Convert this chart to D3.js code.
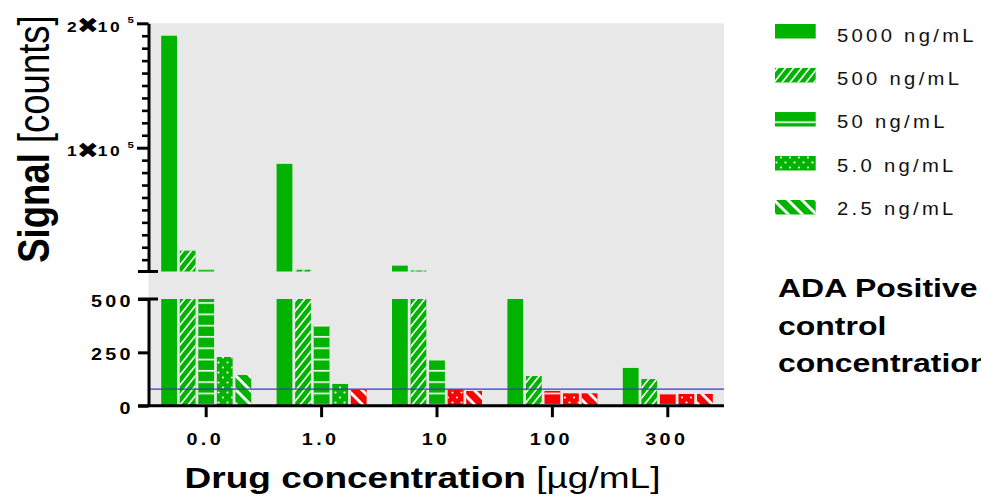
<!DOCTYPE html>
<html><head><meta charset="utf-8">
<script src="https://cdn.jsdelivr.net/npm/d3@7"></script>
<style>
html,body{margin:0;padding:0;background:#fff;}
svg{display:block;font-family:"Liberation Sans",Arial,Helvetica,sans-serif;}
</style></head><body>
<svg id="chart" width="981" height="502"></svg>
<script>
// ---- data ----
const categories = ["0.0", "1.0", "10", "100", "300"];
const seriesNames = ["5000 ng/mL", "500 ng/mL", "50 ng/mL", "5.0 ng/mL", "2.5 ng/mL"];
const values5000 = [190000, 87000, 5200, 510, 177];
const values500  = [17200, 1900, 1300, 139, 125];
const values50   = [2000, 378, 214, 69, 55];
const values5_0  = [228, 102, 76, 58, 55];
const values2_5  = [144, 76, 69, 58, 55];
const cutPoint = 78;
const lowerTicks = [0, 250, 500];
const upperMajorTicks = [100000, 200000];
const breakValue = 500;
const upperMax = 200000;
const yTitleBold = "Signal", yTitleRest = " [counts]";
const xTitleBold = "Drug concentration", xTitleRest = " [µg/mL]";
const legendTitleLines = ["ADA Positive", "control", "concentration"];

// ---- style ----
const GREEN = "#00b300", RED = "#ff0000", BG = "#e8e8e8", BLUE = "#3a3ac8";
const patternIds = [null, "p-hatch", "p-hlines", "p-dots", "p-stripes"];
const K = 1.2; // horizontal text stretch

const svg = d3.select("#chart");
const axisX = 148.5, plotRight = 724;

const x0 = d3.scaleBand().domain(categories).range([148.5, 725.5]);
const x1 = d3.scaleBand().domain(seriesNames).range([-45, 45]).paddingInner(0.15);
const yLow = d3.scaleLinear().domain([0, breakValue]).range([405.7, 299]);
const yUp = d3.scaleLinear().domain([breakValue, upperMax]).range([271.5, 23.3]);

// patterns
const defs = svg.append("defs");
let p = defs.append("pattern").attr("id", "p-hatch").attr("patternUnits", "userSpaceOnUse").attr("width", 8).attr("height", 10);
p.append("path").attr("d", "M0,10L8,0M-2,2.5L2,-2.5M6,12.5L10,7.5").attr("stroke", "#fff").attr("stroke-width", 1.7).attr("fill", "none");
p = defs.append("pattern").attr("id", "p-hlines").attr("patternUnits", "userSpaceOnUse").attr("width", 10).attr("height", 11.3);
p.append("rect").attr("x", 0).attr("y", 8.4).attr("width", 10).attr("height", 1.6).attr("fill", "#fff");
p = defs.append("pattern").attr("id", "p-dots").attr("patternUnits", "userSpaceOnUse").attr("width", 9).attr("height", 10);
p.append("circle").attr("cx", 2.5).attr("cy", 2.5).attr("r", 1.1).attr("fill", "#fff");
p.append("circle").attr("cx", 7).attr("cy", 7.5).attr("r", 1.1).attr("fill", "#fff");
p = defs.append("pattern").attr("id", "p-stripes").attr("patternUnits", "userSpaceOnUse").attr("width", 14).attr("height", 14);
p.append("path").attr("d", "M0,0L14,14M-2,12L2,16M12,-2L16,2").attr("stroke", "#fff").attr("stroke-width", 3).attr("fill", "none");

// background
svg.append("rect").attr("x", axisX).attr("y", yUp(upperMax)).attr("width", plotRight - axisX)
  .attr("height", yLow(0) - yUp(upperMax)).attr("fill", BG);

// bars
const seriesValues = [values5000, values500, values50, values5_0, values2_5];
const rows = [];
categories.forEach((c, ci) => seriesNames.forEach((s, si) => rows.push({ c, s, si, v: seriesValues[si][ci] })));
const bx = d => x0(d.c) + x0.bandwidth() / 2 + x1(d.s);
const colorOf = d => d.v < cutPoint ? RED : GREEN;

function drawBars(g, data, yTop, yBottom) {
  g.selectAll("rect.base").data(data).join("rect").attr("class", "base")
    .attr("x", bx).attr("width", x1.bandwidth())
    .attr("y", yTop).attr("height", d => yBottom - yTop(d)).attr("fill", colorOf);
  g.selectAll("rect.pat").data(data.filter(d => patternIds[d.si])).join("rect").attr("class", "pat")
    .attr("x", bx).attr("width", x1.bandwidth())
    .attr("y", yTop).attr("height", d => yBottom - yTop(d)).attr("fill", d => `url(#${patternIds[d.si]})`);
}
drawBars(svg.append("g"), rows, d => yLow(Math.min(d.v, breakValue)), yLow(0));
drawBars(svg.append("g"), rows.filter(d => d.v > breakValue), d => yUp(Math.min(d.v, upperMax)), yUp(breakValue));

// cut point line
svg.append("line").attr("x1", axisX).attr("x2", plotRight).attr("y1", yLow(cutPoint)).attr("y2", yLow(cutPoint))
  .attr("stroke", BLUE).attr("stroke-width", 1.3);

// axes
function styleAxis(g, w) {
  g.selectAll("path.domain").attr("stroke", "#000").attr("stroke-width", w);
  g.selectAll(".tick line").attr("stroke", "#000").attr("stroke-width", w);
  g.selectAll(".tick text").remove();
}
svg.append("g").attr("transform", `translate(${axisX},0)`)
  .call(d3.axisLeft(yUp).tickValues(upperMajorTicks).tickSize(11.5).tickSizeOuter(0).tickFormat(() => ""))
  .call(g => styleAxis(g, 3));
const minorTicks = d3.range(10000, upperMax, 10000).filter(v => !upperMajorTicks.includes(v));
svg.append("g").attr("transform", `translate(${axisX},0)`)
  .call(d3.axisLeft(yUp).tickValues(minorTicks).tickSize(6.5).tickSizeOuter(0).tickFormat(() => ""))
  .call(g => { styleAxis(g, 2.6); g.select("path.domain").remove(); });
svg.append("g").attr("transform", `translate(${axisX},0)`)
  .call(d3.axisLeft(yLow).tickValues(lowerTicks).tickSize(10.5).tickSizeOuter(0).tickFormat(() => ""))
  .call(g => styleAxis(g, 3));
// break caps
[yUp(breakValue), yLow(breakValue)].forEach(y => {
  svg.append("line").attr("x1", 138).attr("x2", 158).attr("y1", y).attr("y2", y).attr("stroke", "#000").attr("stroke-width", 3);
});
svg.append("g").attr("transform", `translate(0,${yLow(0)})`)
  .call(d3.axisBottom(x0).tickSize(11.5).tickSizeOuter(0).tickFormat(() => ""))
  .call(g => { styleAxis(g, 3); g.select("path.domain").attr("d", `M138,0H${plotRight}`); });

// tick labels
const tickFont = { size: 16.5, ls: 2.8 };
svg.append("g").selectAll("text").data(categories).join("text")
  .attr("transform", d => `translate(${x0(d) + x0.bandwidth() / 2 - 1},445) scale(${K},1)`)
  .attr("text-anchor", "middle").attr("font-weight", "bold").attr("font-size", tickFont.size)
  .attr("letter-spacing", tickFont.ls).text(d => d);
svg.append("g").selectAll("text").data(lowerTicks).join("text")
  .attr("transform", d => `translate(134,${yLow(d) + 7.8}) scale(${K},1)`)
  .attr("text-anchor", "end").attr("font-weight", "bold").attr("font-size", tickFont.size)
  .attr("letter-spacing", tickFont.ls).text(d => d);
const upLab = svg.append("g").selectAll("text").data(upperMajorTicks).join("text")
  .attr("transform", d => `translate(67,${yUp(d) + 8.3}) scale(${K},1)`)
  .attr("font-weight", "bold").attr("font-size", 14.5).attr("letter-spacing", 0.6);
upLab.append("tspan").text(d => String(d / 100000));
upLab.append("tspan").attr("font-size", 22).attr("font-family", "DejaVu Sans").attr("dy", 1.5).attr("dx", -0.5).text("\u2716");
upLab.append("tspan").attr("dy", -1.5).attr("dx", -1.5).text("1");
upLab.append("tspan").attr("dx", 1.5).text("0");
upLab.append("tspan").attr("font-size", 9.5).attr("dx", 6).attr("dy", -8.5).text("5");

// axis titles
const yt = svg.append("text").attr("transform", `translate(49,139) scale(1.22,1) rotate(-90)`)
  .attr("text-anchor", "middle").attr("font-size", 36.5);
yt.append("tspan").attr("font-weight", "bold").text(yTitleBold);
yt.append("tspan").text(yTitleRest);
const xt = svg.append("text").attr("transform", `translate(422.5,488) scale(1.234,1)`)
  .attr("text-anchor", "middle").attr("font-size", 30);
xt.append("tspan").attr("font-weight", "bold").text(xTitleBold);
xt.append("tspan").text(xTitleRest);

// legend
const lg = svg.append("g");
const legendRows = seriesNames.map((s, i) => ({ s, si: i }));
lg.selectAll("rect.base").data(legendRows).join("rect").attr("class", "base")
  .attr("x", 775).attr("y", d => 24 + 44 * d.si).attr("width", 40.7).attr("height", 14.5).attr("fill", GREEN);
lg.selectAll("rect.pat").data(legendRows.filter(d => patternIds[d.si])).join("rect").attr("class", "pat")
  .attr("x", 775).attr("y", d => 24 + 44 * d.si).attr("width", 40.7).attr("height", 14.5)
  .attr("fill", d => `url(#${patternIds[d.si]})`);
lg.selectAll("text").data(legendRows).join("text")
  .attr("transform", d => `translate(837,${41.7 + 43.3 * d.si}) scale(1.1,1)`)
  .attr("font-size", 18.4).attr("letter-spacing", 3).attr("fill", "#111").text(d => d.s);

// legend title
svg.append("g").selectAll("text").data(legendTitleLines).join("text")
  .attr("transform", (d, i) => `translate(778,${297 + 37.5 * i}) scale(1.23,1)`)
  .attr("font-weight", "bold").attr("font-size", 26).text(d => d);
</script>
</body></html>
